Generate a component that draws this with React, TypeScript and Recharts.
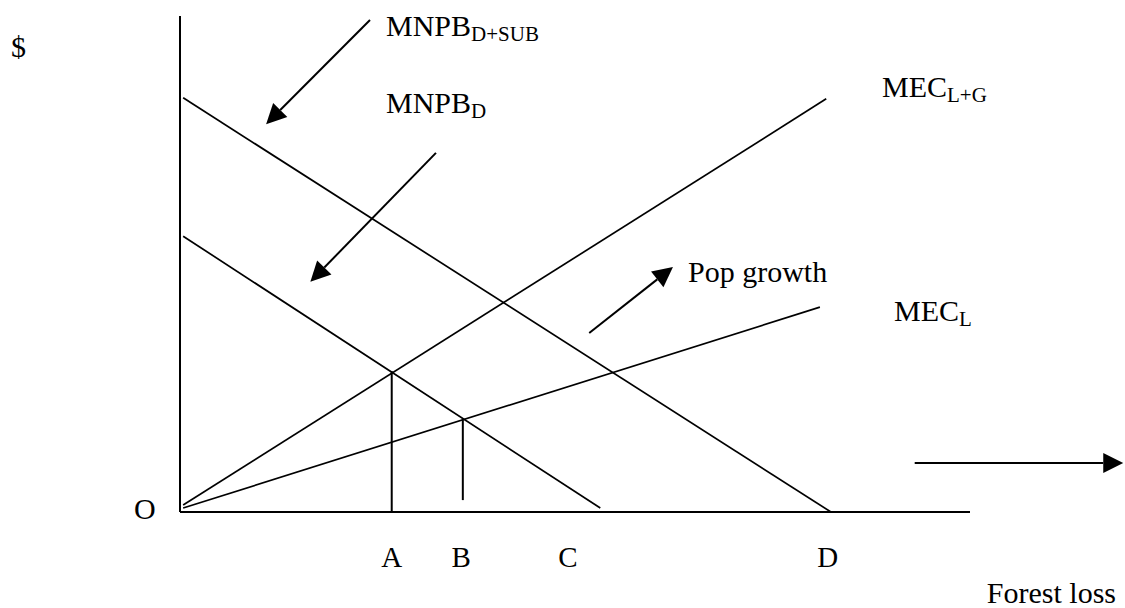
import { LineChart, Line, XAxis, YAxis, ReferenceLine } from 'recharts';

// curves, in (forest loss, $) units on a 0-100 scale
const mnpbDSub = [{ x: 0.4, y: 83.5 }, { x: 82.4, y: 0 }];
const mnpbD = [{ x: 0.4, y: 55.6 }, { x: 53.2, y: 0.8 }];
const mecLG = [{ x: 0.4, y: 1.4 }, { x: 81.8, y: 83.3 }];
const mecL = [{ x: 0.4, y: 0.8 }, { x: 81.0, y: 41.3 }];
const dropA = [{ x: 26.8, y: 0 }, { x: 26.8, y: 28.4 }];
const dropB = [{ x: 35.8, y: 2.4 }, { x: 35.8, y: 18.75 }];

const tickValues = [26.8, 35.6, 49.1, 82.0];
const tickLabels = ['A', 'B', 'C', 'D'];

// shift arrows: [from, to]
const arrows = [
  [{ x: 24.05, y: 99.2 }, { x: 10.9, y: 78.2 }],
  [{ x: 32.4, y: 72.4 }, { x: 16.5, y: 46.4 }],
  [{ x: 51.8, y: 36.1 }, { x: 62.4, y: 49.4 }],
  [{ x: 93.0, y: 9.9 }, { x: 119.4, y: 9.9 }],
];

const FONT = '"Liberation Serif", "DejaVu Serif", serif';
const series = [mnpbDSub, mnpbD, mecLG, mecL, dropA, dropB];

function ArrowShape(props: any) {
  const { x1, y1, x2, y2 } = props;
  const dx = x2 - x1;
  const dy = y2 - y1;
  const len = Math.sqrt(dx * dx + dy * dy) || 1;
  const ux = dx / len;
  const uy = dy / len;
  const head = 20;
  const half = 10;
  const bx = x2 - ux * head;
  const by = y2 - uy * head;
  const pts = `${x2},${y2} ${bx - uy * half},${by + ux * half} ${bx + uy * half},${by - ux * half}`;
  return (
    <g>
      <line x1={x1} y1={y1} x2={bx} y2={by} stroke="#000" strokeWidth={2} />
      <polygon points={pts} fill="#000" />
    </g>
  );
}

function TickLabel(props: any) {
  const { x, y, payload } = props;
  const i = tickValues.indexOf(payload.value);
  return (
    <text x={x} y={y + 53} textAnchor="middle" fontFamily={FONT} fontSize={29} fill="#000">
      {tickLabels[i]}
    </text>
  );
}

function Lbl({ x, y, main, sub, anchor }: { x: number; y: number; main: string; sub?: string; anchor?: string }) {
  return (
    <text x={x} y={y} fontFamily={FONT} fontSize={30} fill="#000" textAnchor={anchor || 'start'}>
      {main}
      {sub && (
        <tspan fontSize={21} dy={5}>
          {sub}
        </tspan>
      )}
    </text>
  );
}

export default function App() {
  return (
    <div style={{ position: 'absolute', left: 0, top: 0, width: 1125, height: 608, background: '#fff' }}>
      <LineChart width={1125} height={608} margin={{ top: 16, right: 155, bottom: 0, left: 0 }}>
        <XAxis
          type="number"
          dataKey="x"
          domain={[0, 100]}
          ticks={tickValues}
          tick={<TickLabel />}
          tickLine={false}
          tickSize={0}
          height={96}
          allowDataOverflow
          axisLine={{ stroke: '#000', strokeWidth: 2 }}
        />
        <YAxis
          type="number"
          domain={[0, 100]}
          width={180}
          tick={false}
          tickLine={false}
          allowDataOverflow
          axisLine={{ stroke: '#000', strokeWidth: 2 }}
        />
        {series.map((d, i) => (
          <Line
            key={i}
            data={d}
            dataKey="y"
            stroke="#000"
            strokeWidth={i >= 4 ? 2 : 1.7}
            dot={false}
            activeDot={false}
            isAnimationActive={false}
          />
        ))}
        {arrows.map((seg, i) => (
          <ReferenceLine key={i} segment={seg} ifOverflow="visible" shape={ArrowShape} />
        ))}
      </LineChart>
      <svg
        width={1125}
        height={608}
        style={{ position: 'absolute', left: 0, top: 0, pointerEvents: 'none' }}
      >
        <Lbl x={11} y={57} main="$" />
        <Lbl x={134} y={519} main="O" />
        <Lbl x={386} y={36} main="MNPB" sub="D+SUB" />
        <Lbl x={386} y={113} main="MNPB" sub="D" />
        <Lbl x={882} y={97} main="MEC" sub="L+G" />
        <Lbl x={688} y={282} main="Pop growth" />
        <Lbl x={894} y={321} main="MEC" sub="L" />
        <Lbl x={1116} y={603} main="Forest loss" anchor="end" />
      </svg>
    </div>
  );
}
